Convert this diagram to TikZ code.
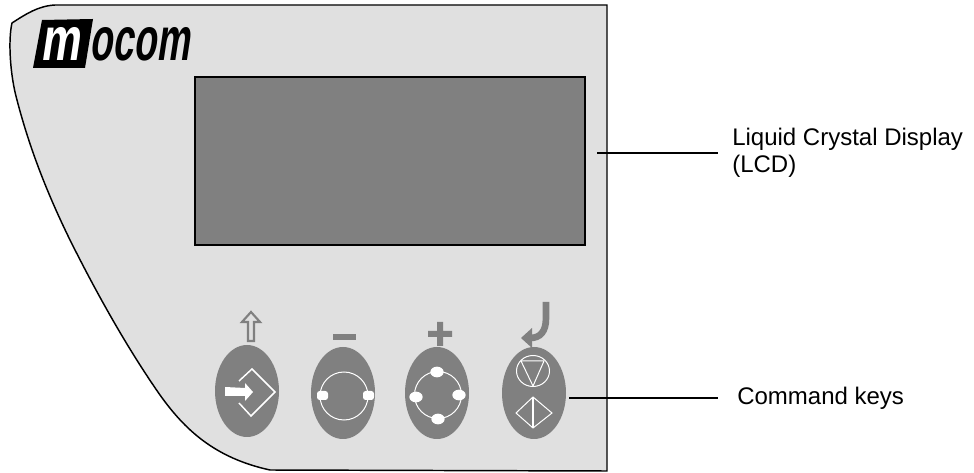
\documentclass[tikz,border=0pt]{standalone}
\usepackage{fontspec}
\setmainfont{Liberation Sans}
\usepackage{xcolor}
\usetikzlibrary{
  positioning,
  calc,
  shapes.geometric
}
\definecolor{panel}{HTML}{E0E0E0}
\definecolor{keygray}{HTML}{808080}

\begin{document}
\begin{tikzpicture}[
  x=0.75pt, y=-0.75pt,
  lbl/.style={font=\fontsize{18}{20.25}\selectfont, inner sep=0pt, anchor=west, align=left},
  keypad/.style={draw=none, fill=keygray, ellipse, minimum width=48pt, minimum height=69pt, inner sep=0pt},
  leader/.style={draw=black, line width=1.1pt},
  glyph/.style={draw=white, line width=0.75pt},
  wdot/.style={draw=none, fill=white, ellipse, minimum width=10pt, minimum height=8pt, inner sep=0pt},
  legend/.style={draw=keygray, line width=1.6pt},
]
  \useasboundingbox (0,0) rectangle (974,473);

  % panel outline
  \draw[fill=panel, line width=1.1pt]
    (607,5) -- (55,5) .. controls (38,6) and (26,14) .. (12,23)
    .. controls (8,40) and (10,75) .. (17,100)
    .. controls (30,150) and (48,195) .. (70,240)
    .. controls (100,300) and (130,352) .. (160,395)
    .. controls (185,430) and (215,458) .. (270,470)
    -- (607,471) -- cycle;

  % logo
  \fill (42,20) -- (93,19) -- (85,68) -- (33,68) -- cycle;
  \node[inner sep=0pt, text=white, font=\fontsize{46}{46}\selectfont\bfseries, xslant=.15, xscale=.72, transform shape] (logom) at (63,44) {m};
  \node[inner sep=0pt, anchor=west, font=\fontsize{46}{46}\selectfont\bfseries, xslant=.15, xscale=.61, transform shape] (logotext) at (92,44) {ocom};

  % display
  \node[draw=black, fill=keygray, line width=1.1pt, minimum width=292.5pt, minimum height=126pt, inner sep=0pt] (lcd) at (390,161) {};

  % keys
  \node[keypad] (keyone) at (247,391) {};
  \node[keypad] (keytwo) at (343,393) {};
  \node[keypad] (keythree) at (437,393) {};
  \node[keypad] (keyfour) at (534,393) {};

  % key legends
  \draw[legend, line join=miter] (248,341) -- (248,322) -- (242,322) -- (251,312) -- (260,322) -- (254,322) -- (254,341) -- cycle;
  \fill[keygray] (333,334) rectangle (356,340);
  \fill[keygray] (428,331) rectangle (452,337) (437,322) rectangle (443,346);
  \draw[keygray, line width=5pt] (546,302) -- (546,318) .. controls (546,332) and (540,338) .. (530,338);
  \fill[keygray] (532,328) -- (521,338) -- (532,348) -- cycle;

  % key one glyph
  \draw[glyph, line width=1.1pt] (239,381) -- (252,369) -- (275,392) -- (251,416) -- (239,403);
  \fill[white] (225,387) -- (245,388) -- (245,383) -- (253,392) -- (245,401) -- (245,396) -- (225,396) -- cycle;

  % key two glyph
  \draw[glyph] (344,396) circle [radius=24];
  \fill[white, rounded corners=2pt] (317,391) rectangle (328,400) (363,391) rectangle (374,400);

  % key three glyph
  \draw[glyph] (438,395) circle [radius=23.5];
  \node[wdot] (dottop) at (437,372) {};
  \node[wdot] (dotbottom) at (438,419) {};
  \node[wdot] (dotleft) at (416,397) {};
  \node[wdot] (dotright) at (459,395) {};

  % key four glyph
  \draw[glyph] (533,371) ellipse [x radius=16.5, y radius=15.5];
  \draw[glyph, line join=round] (521,361) -- (544,361) -- (533,386) -- cycle;
  \draw[glyph] (516,413) -- (533,397) -- (552,413) -- (533,428) -- cycle;
  \draw[glyph, line width=1.3pt] (533,397) -- (533,428);

  % labels
  \node[lbl] (lcdlabel) at (732,153) {Liquid Crystal Display\\(LCD)};
  \node[lbl] (keylabel) at (737,398.5) {Command keys};

  \coordinate (lcdfrom) at (597,153);
  \coordinate (lcdto) at (718,153);
  \coordinate (keyfrom) at (569,398);
  \coordinate (keyto) at (718,398);
  \draw[leader] (lcdfrom) -- (lcdto);
  \draw[leader] (keyfrom) -- (keyto);
\end{tikzpicture}
\end{document}
